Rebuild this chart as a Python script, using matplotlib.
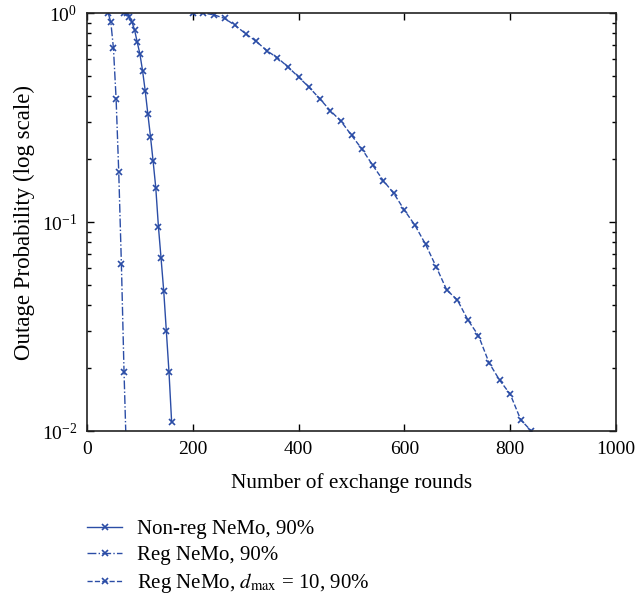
import matplotlib
matplotlib.use("Agg")
import matplotlib.pyplot as plt

plt.rcParams['font.family'] = ['Liberation Serif', 'DejaVu Serif']
plt.rcParams['mathtext.fontset'] = 'stix'

# Non-reg NeMo, 90%
nonreg_x = [70, 75, 80, 85, 90, 95, 100, 105, 110, 115, 120, 125, 130, 135,
            140, 145, 150, 155, 160]
nonreg_y = [1.0, 1.0, 0.954, 0.906, 0.829, 0.724, 0.637, 0.530, 0.425, 0.329,
            0.256, 0.195, 0.146, 0.095, 0.067, 0.0469, 0.030, 0.0191, 0.0110]

# Reg NeMo, 90%
reg_x = [40, 45, 50, 55, 60, 65, 70, 75]
reg_y = [1.0, 0.906, 0.678, 0.389, 0.173, 0.063, 0.0191, 0.007]

# Reg NeMo, d_max = 10, 90%
dmax_x = [200, 220, 240, 260, 280, 300, 320, 340, 360, 380, 400, 420, 440,
          460, 480, 500, 520, 540, 560, 580, 600, 620, 640, 660, 680, 700,
          720, 740, 760, 780, 800, 820, 840]
dmax_y = [1.0, 1.0, 0.981, 0.943, 0.873, 0.796, 0.732, 0.660, 0.611, 0.552,
          0.494, 0.441, 0.389, 0.341, 0.304, 0.260, 0.223, 0.187, 0.158, 0.137,
          0.114, 0.0964, 0.0782, 0.0611, 0.0473, 0.0424, 0.034, 0.0286, 0.0212,
          0.0175, 0.0150, 0.0113, 0.0100]

labels = ['Non-reg NeMo, 90%', 'Reg NeMo, 90%',
          r'Reg NeMo, $d_{\mathrm{max}}$ = 10, 90%']

color = '#2B4DA6'

fig = plt.figure(figsize=(6.36, 5.94), dpi=100)
ax = fig.add_axes([0.1368, 0.2744, 0.8318, 0.7036])

mk = dict(marker='x', markersize=5, markeredgewidth=1.2, color=color, lw=1.0)
ax.plot(nonreg_x, nonreg_y, linestyle='-', label=labels[0], **mk)
ax.plot(reg_x, reg_y, linestyle='-.', label=labels[1], **mk)
ax.plot(dmax_x, dmax_y, linestyle='--', label=labels[2], **mk)

ax.set_yscale('log')
ax.set_xlim(0, 1000)
ax.set_ylim(0.01, 1)
ax.set_xticks([0, 200, 400, 600, 800, 1000])
ax.tick_params(which='both', direction='in', top=True, right=True,
               labelsize=14, width=1.0, pad=7)
ax.tick_params(which='major', length=5)
ax.tick_params(which='minor', length=3)
for s in ax.spines.values():
    s.set_linewidth(1.2)
    s.set_color('#222222')

ax.set_xlabel('Number of exchange rounds', fontsize=15.3, labelpad=11)
ax.set_ylabel('Outage Probability (log scale)', fontsize=16.5, labelpad=5)

ax.legend(loc='upper left', bbox_to_anchor=(0, -0.212), frameon=False,
          fontsize=15, handlelength=1.7, handletextpad=0.7,
          labelspacing=0.3, borderpad=0, borderaxespad=0)

fig.savefig('out.png', dpi=100)
